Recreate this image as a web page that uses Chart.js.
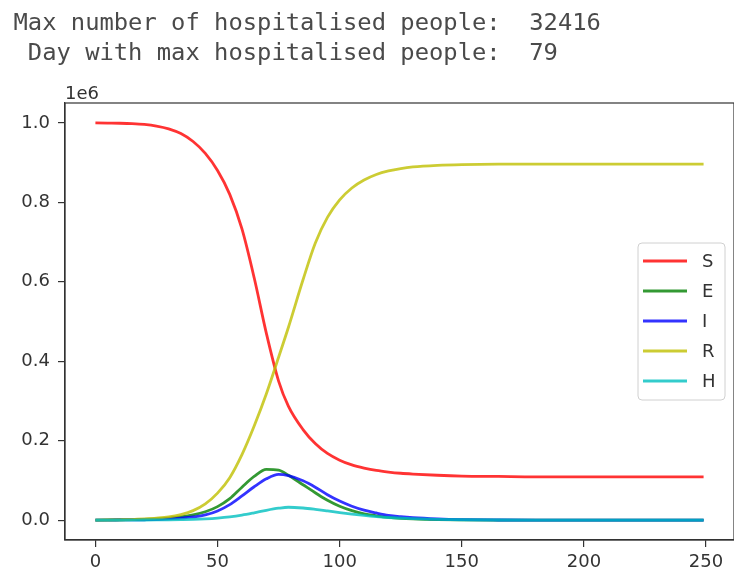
<!DOCTYPE html>
<html>
<head>
<meta charset="utf-8">
<script src="https://cdn.jsdelivr.net/npm/chart.js@4/dist/chart.umd.min.js"></script>
<style>
  html, body { margin: 0; padding: 0; background: #fff; }
  #wrap { position: relative; width: 734px; height: 576px; overflow: hidden; }
  #out {
    position: absolute; left: 13.5px; top: 7px; margin: 0;
    font-family: "DejaVu Sans Mono", monospace; font-size: 23.8px; line-height: 30px;
    color: #4a4a4a; white-space: pre;
  }
  canvas { position: absolute; left: 0; top: 0; }
</style>
</head>
<body>
<div id="wrap">
  <canvas id="c" width="734" height="576"></canvas>
  <pre id="out"></pre>
</div>
<script>
// Simulation days sampled for the curves
const days = [0, 5, 10, 15, 20, 25, 30, 35, 40, 45, 50, 55, 60, 65, 70, 75, 79, 85, 90, 95, 100, 105, 110, 115, 120, 125, 130, 140, 150, 165, 180, 200, 225, 249];

// Compartment sizes (people)
const susceptible = [1000000, 999500, 999000, 998000, 996000, 992000, 985000, 973000, 953000, 923000, 880000, 820000, 733000, 610000, 470000, 350000, 287000, 228000, 193000, 168000, 151000, 139000, 131000, 125000, 121000, 118000, 116000, 113000, 111000, 110000, 109000, 109000, 109000, 109000];
const exposed     = [0, 500, 1000, 1500, 2000, 3000, 5000, 8000, 13000, 21000, 34000, 54000, 83000, 110000, 128000, 126000, 113000, 89000, 69000, 50000, 35000, 24000, 16000, 11000, 7000, 4500, 3000, 1200, 500, 100, 0, 0, 0, 0];
const infected    = [0, 200, 500, 800, 1000, 1500, 3000, 5000, 8000, 13000, 23000, 39000, 61000, 84000, 104000, 115000, 112000, 99000, 83000, 64000, 48000, 35000, 25000, 18000, 12000, 8500, 6000, 3000, 1300, 400, 100, 0, 0, 0];
const recovered   = [0, 300, 800, 1500, 3000, 5000, 8000, 14000, 24000, 41000, 68000, 107000, 165000, 237000, 318000, 410000, 485000, 605000, 697000, 762000, 806000, 836000, 856000, 870000, 879000, 885000, 889000, 893000, 895000, 896000, 896000, 896000, 896000, 896000];
const hospital    = [0, 50, 100, 200, 300, 500, 800, 1300, 2000, 3300, 5300, 8300, 12700, 18500, 24800, 30000, 32416, 30500, 27200, 23200, 19000, 15200, 11800, 8900, 6600, 4900, 3600, 1900, 1000, 300, 100, 0, 0, 0];

const seriesLabels = ['S', 'E', 'I', 'R', 'H'];
const seriesColors = ['rgba(255,0,0,0.8)', 'rgba(0,128,0,0.8)', 'rgba(0,0,255,0.8)', 'rgba(191,191,0,0.8)', 'rgba(0,191,191,0.8)'];

const xTicks = [0, 50, 100, 150, 200, 250];
const yTicks = [0, 200000, 400000, 600000, 800000, 1000000];

// Printed summary above the plot
const maxH = Math.max(...hospital);
const maxDay = days[hospital.indexOf(maxH)];
document.getElementById('out').textContent =
  'Max number of hospitalised people:  ' + maxH + '\n Day with max hospitalised people:  ' + maxDay;

const allSeries = [susceptible, exposed, infected, recovered, hospital];
const datasets = allSeries.map((vals, i) => ({
  label: seriesLabels[i],
  data: days.map((d, k) => ({ x: d, y: vals[k] })),
  borderColor: seriesColors[i],
  backgroundColor: seriesColors[i],
  borderWidth: 2.8,
  pointRadius: 0,
  fill: false,
  cubicInterpolationMode: 'monotone',
  order: allSeries.length - i
}));

const TEXT = '#333';
const FONT = { family: 'DejaVu Sans', size: 18 };

// Frame around the plot, offset label and the in-plot legend
const framePlugin = {
  id: 'frame',
  afterDraw(chart) {
    const { ctx, chartArea: a } = chart;
    ctx.save();
    ctx.strokeStyle = '#333';
    ctx.lineWidth = 1.2;
    ctx.strokeRect(a.left, a.top, a.right - a.left, a.bottom - a.top);

    ctx.fillStyle = TEXT;
    ctx.font = '18px "DejaVu Sans"';
    ctx.textAlign = 'left';
    ctx.textBaseline = 'alphabetic';
    ctx.fillText('1e6', a.left, a.top - 4);

    // legend box
    const bx = 638, by = 243, bw = 87, bh = 157, r = 4;
    ctx.beginPath();
    ctx.moveTo(bx + r, by);
    ctx.arcTo(bx + bw, by, bx + bw, by + bh, r);
    ctx.arcTo(bx + bw, by + bh, bx, by + bh, r);
    ctx.arcTo(bx, by + bh, bx, by, r);
    ctx.arcTo(bx, by, bx + bw, by, r);
    ctx.closePath();
    ctx.fillStyle = 'rgba(255,255,255,0.85)';
    ctx.fill();
    ctx.strokeStyle = '#d0d0d0';
    ctx.lineWidth = 1;
    ctx.stroke();

    chart.data.datasets.forEach((ds, i) => {
      const y = 261 + i * 30;
      ctx.strokeStyle = ds.borderColor;
      ctx.lineWidth = ds.borderWidth;
      ctx.beginPath();
      ctx.moveTo(643, y);
      ctx.lineTo(687, y);
      ctx.stroke();
      ctx.fillStyle = TEXT;
      ctx.textBaseline = 'middle';
      ctx.fillText(ds.label, 702, y + 1);
    });
    ctx.restore();
  }
};

new Chart(document.getElementById('c'), {
  type: 'line',
  data: { datasets },
  options: {
    responsive: false,
    animation: false,
    devicePixelRatio: 1,
    layout: { padding: { top: 103, left: 0, right: 0, bottom: 0 } },
    plugins: { legend: { display: false }, tooltip: { enabled: false } },
    scales: {
      x: {
        type: 'linear',
        min: -12.45,
        max: 261.45,
        afterBuildTicks: (axis) => { axis.ticks = xTicks.map(v => ({ value: v })); },
        afterFit: (axis) => { axis.height = 36; },
        grid: { display: true, drawOnChartArea: false, drawTicks: true, tickLength: 7, color: '#333', lineWidth: 1.2 },
        border: { display: true, color: '#333', width: 1.2 },
        ticks: { color: TEXT, font: FONT, padding: 5, maxRotation: 0, callback: (v) => String(v) }
      },
      y: {
        type: 'linear',
        min: -50000,
        max: 1050000,
        afterBuildTicks: (axis) => { axis.ticks = yTicks.map(v => ({ value: v })); },
        afterFit: (axis) => { axis.width = 65; },
        grid: { display: true, drawOnChartArea: false, drawTicks: true, tickLength: 7, color: '#333', lineWidth: 1.2 },
        border: { display: true, color: '#333', width: 1.2 },
        ticks: { color: TEXT, font: FONT, padding: 8, callback: (v) => (v / 1e6).toFixed(1) }
      }
    }
  },
  plugins: [framePlugin]
});
</script>
</body>
</html>
